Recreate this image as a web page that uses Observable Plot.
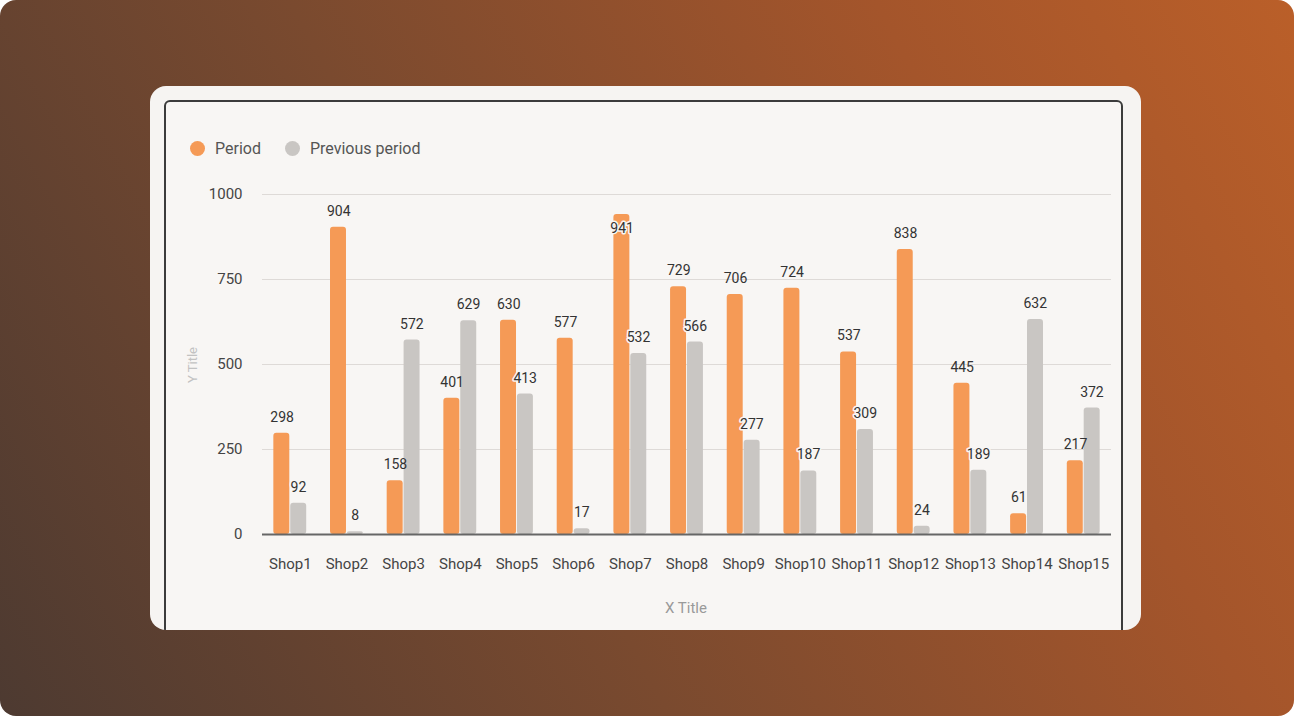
<!DOCTYPE html>
<html>
<head>
<meta charset="utf-8">
<script src="https://cdn.jsdelivr.net/npm/d3@7"></script>
<script src="https://cdn.jsdelivr.net/npm/@observablehq/plot@0.6"></script>
<style>
  html, body { margin: 0; padding: 0; background: #ffffff; }
  body { width: 1294px; height: 716px; position: relative; overflow: hidden; font-family: Roboto, "Noto Sans", sans-serif; }
  #bg { position: absolute; left: 0; top: 0; width: 1294px; height: 716px; border-radius: 16px;
        background: linear-gradient(62deg, #4d3a31 0%, #7a4a2f 40%, #a4552b 75%, #ba5f29 100%); }
  #card { position: absolute; left: 150px; top: 86px; width: 991px; height: 544px; border-radius: 16px;
          background: #f6f4f2; overflow: hidden; }
  #panel { position: absolute; left: 14px; top: 14px; width: 955px; height: 580px; border: 2px solid #3c3c3c;
           border-radius: 6px; background: #f8f6f4; }
  #legend { position: absolute; left: 190px; top: 139px; display: flex; align-items: center; font-size: 16px; color: #555; }
  .sw { width: 15px; height: 15px; border-radius: 50%; display: inline-block; margin-right: 10px; }
  .item { display: flex; align-items: center; margin-right: 24px; }
  #chart { position: absolute; left: 164px; top: 170px; }
  #ytitle { position: absolute; left: 192px; top: 365px; transform: translate(-50%, -50%) rotate(-90deg);
            font-size: 13px; color: #c2c2c2; white-space: nowrap; }
  #xtitle { position: absolute; left: 686px; top: 608px; transform: translate(-50%, -50%);
            font-size: 15px; color: #9a9a9a; white-space: nowrap; }
</style>
</head>
<body>
<div id="bg"></div>
<div id="card"><div id="panel"></div></div>
<div id="legend"></div>
<div id="ytitle">Y Title</div>
<div id="xtitle">X Title</div>
<div id="chart"></div>
<script>
const shops = ["Shop1","Shop2","Shop3","Shop4","Shop5","Shop6","Shop7","Shop8","Shop9","Shop10","Shop11","Shop12","Shop13","Shop14","Shop15"];
const period = [298, 904, 158, 401, 630, 577, 941, 729, 706, 724, 537, 838, 445, 61, 217];
const previousPeriod = [92, 8, 572, 629, 413, 17, 532, 566, 277, 187, 309, 24, 189, 632, 372];
const seriesNames = ["Period", "Previous period"];
const seriesColors = ["#f59a56", "#c9c6c3"];
const yTicks = [0, 250, 500, 750, 1000];

const cur = shops.map((s, i) => ({shop: s, value: period[i]}));
const prev = shops.map((s, i) => ({shop: s, value: previousPeriod[i]}));

const legend = document.getElementById("legend");
seriesNames.forEach((n, i) => {
  const it = document.createElement("div");
  it.className = "item";
  it.innerHTML = `<span class="sw" style="background:${seriesColors[i]}"></span><span>${n}</span>`;
  legend.appendChild(it);
});

const half = 16.9;
const labelFont = {fontSize: 14, fill: "#333", fontFamily: "Roboto, sans-serif"};

const chart = Plot.plot({
  width: 960,
  height: 460,
  marginLeft: 98,
  marginRight: 13,
  marginTop: 24,
  marginBottom: 96,
  style: {background: "transparent", fontFamily: "Roboto, sans-serif"},
  x: {domain: shops, paddingInner: 0.42, paddingOuter: 0.2, round: false, label: null, tickSize: 0, tickPadding: 24},
  y: {domain: [0, 1000], ticks: yTicks, tickFormat: d3.format("d"), label: null, tickSize: 0, tickPadding: 20},
  marks: [
    Plot.ruleY(yTicks.filter(t => t > 0), {stroke: "#dedad7", strokeWidth: 1}),
    Plot.barY(cur, {x: "shop", y: "value", fill: seriesColors[0], insetRight: half, rx: 3}),
    Plot.barY(prev, {x: "shop", y: "value", fill: seriesColors[1], insetLeft: half, rx: 3}),
    Plot.ruleY([0], {stroke: "#666", strokeWidth: 2}),
    Plot.text(cur.filter(d => d.value <= 920), {x: "shop", y: "value", text: d => String(d.value), dx: -8.2, dy: -16, ...labelFont}),
    Plot.text(cur.filter(d => d.value > 920), {x: "shop", y: "value", text: d => String(d.value), dx: -8.2, dy: 14, stroke: "#f8f6f4", strokeWidth: 3, ...labelFont}),
    Plot.text(prev, {x: "shop", y: "value", text: d => String(d.value), dx: 8.2, dy: -16, stroke: "#f8f6f4", strokeWidth: 3, ...labelFont})
  ]
});
chart.querySelectorAll('g[aria-label="x-axis tick label"] text, g[aria-label="y-axis tick label"] text').forEach(t => {
  t.style.fontSize = "15px";
  t.style.fill = "#444";
});
document.getElementById("chart").appendChild(chart);
</script>
</body>
</html>
